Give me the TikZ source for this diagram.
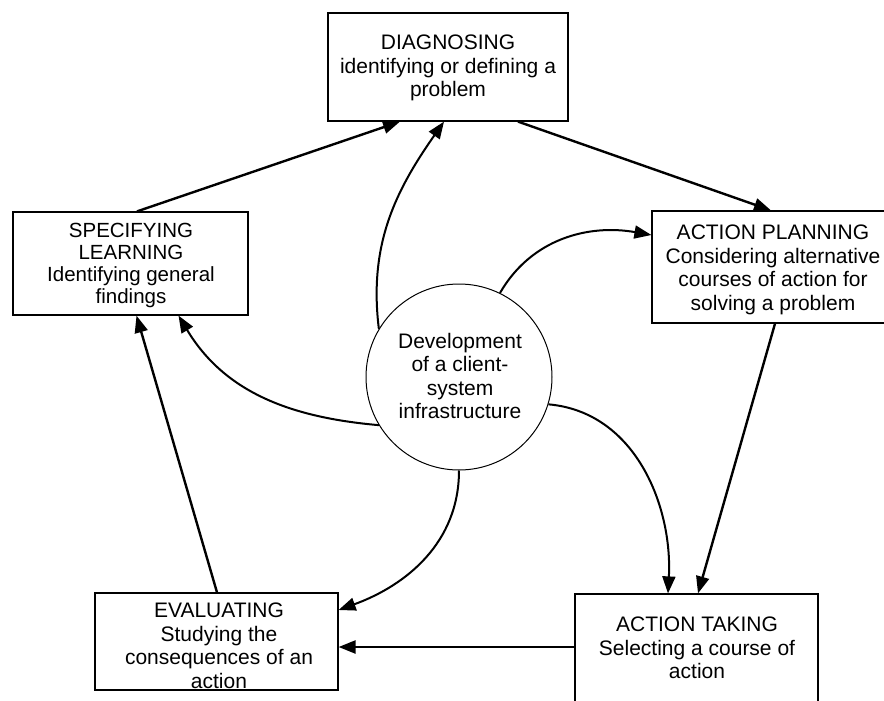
\documentclass[tikz,border=0pt]{standalone}
\usepackage{fontspec}
\setmainfont{Liberation Sans}
\usetikzlibrary{arrows.meta}
\begin{document}
\begin{tikzpicture}[x=1pt,y=-1pt,
  stage/.style={draw,line width=1.2pt,rectangle,inner sep=0pt},
  hub/.style={draw,line width=1pt,circle,inner sep=0pt,minimum size=186pt},
  lbl/.style={anchor=north,align=center,inner sep=0pt,font=\fontsize{21}{23.5}\selectfont},
  flow/.style={line width=2.4pt,-{Triangle[length=17pt,width=13pt]}},
  bendflow/.style={line width=2pt,-{Triangle[length=17pt,width=13pt]}}]
\useasboundingbox (0,0) rectangle (884,701);
\fill[white] (0,0) rectangle (884,701);

% the five stages of the cycle
\node[stage,minimum width=240pt,minimum height=108pt] (diag) at (448,67) {};
\node[stage,minimum width=235pt,minimum height=103pt] (spec) at (130.5,263.5) {};
\node[stage,minimum width=242pt,minimum height=112pt] (plan) at (773,267) {};
\node[stage,minimum width=243pt,minimum height=126pt] (take) at (696.5,657) {};
\node[stage,minimum width=243pt,minimum height=97pt] (eval) at (216.5,641.5) {};

% central infrastructure
\node[hub] (dev) at (459,377) {};

% stage texts
\node[lbl] (diagtxt) at (448,35) {DIAGNOSING\\identifying or defining a\\problem};
\node[lbl,font=\fontsize{20.5}{22}\selectfont] (spectxt) at (131,223) {SPECIFYING\\LEARNING\\Identifying general\\findings};
\node[lbl] (plantxt) at (773,225) {ACTION PLANNING\\Considering alternative\\courses of action for\\solving a problem};
\node[lbl] (taketxt) at (697,617) {ACTION TAKING\\Selecting a course of\\action};
\node[lbl] (evaltxt) at (219,603) {EVALUATING\\Studying the\\consequences of an\\action};
\node[lbl] (devtxt) at (460,333) {Development\\of a client-\\system\\infrastructure};

% cycle connectors
\draw[flow] ([xshift=6.5pt]spec.north) -- ([xshift=-48pt]diag.south);
\draw[flow] ([xshift=70pt]diag.south) -- ([xshift=-2pt]plan.north);
\draw[flow] ([xshift=2pt]plan.south) -- ([xshift=1.5pt]take.north);
\draw[flow] ([yshift=10pt]take.west) -- ([yshift=10pt]take.west -| eval.east);
\draw[flow] ([xshift=0.5pt]eval.north) -- ([xshift=6pt]spec.south);

% connectors from the infrastructure to each stage
\draw[bendflow] (dev.149) to[out=97,in=-125] ([xshift=-4pt]diag.south);
\draw[bendflow] (dev.64) to[out=60,in=170] ([yshift=32pt]plan.west);
\draw[bendflow] (dev.-17) to[out=-5,in=87] ([xshift=-28.5pt]take.north);
\draw[bendflow] (dev.south) to[out=-90,in=20] ([yshift=31.5pt]eval.east);
\draw[bendflow] (dev.211) to[out=175,in=-59] ([xshift=48pt]spec.south);
\end{tikzpicture}
\end{document}
